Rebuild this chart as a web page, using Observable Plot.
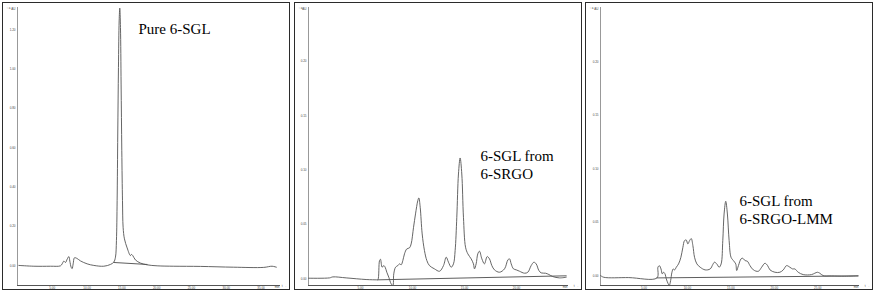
<!DOCTYPE html>
<html><head><meta charset="utf-8">
<script src="https://cdn.jsdelivr.net/npm/d3@7"></script>
<script src="https://cdn.jsdelivr.net/npm/@observablehq/plot@0.6"></script>
<style>
body{margin:0;background:#fff;width:876px;height:294px;overflow:hidden;position:relative}
.panel{position:absolute;top:2px;width:286px;height:286px;border:1px solid #2b2b2b;background:#fff}
.panel svg{display:block}
</style></head><body>
<div id="p1" class="panel" style="left:2px"></div>
<div id="p2" class="panel" style="left:294px"></div>
<div id="p3" class="panel" style="left:585px"></div>
<script>
// Panel 1: Pure 6-SGL (time in min, absorbance in AU)
const pureTime=[0.19,2.35,4.74,6.18,6.42,6.66,6.90,7.14,7.38,7.52,7.71,7.85,8.00,8.19,8.57,9.05,10.01,10.97,12.40,13.36,13.84,14.08,14.22,14.32,14.41,14.51,14.61,14.70,14.80,14.89,14.99,15.09,15.18,15.37,15.76,16.23,16.38,16.57,16.95,17.67,18.63,20.07,22.46,26.29,31.08,35.39,36.59,37.21];
const pureAbs=[0.002,-0.002,-0.002,0,0.010,0.024,0.017,0.034,0.047,0.024,-0.007,-0.014,0.010,0.041,0.037,0.025,0.010,0.002,-0.002,0.007,0.019,0.044,0.129,0.332,0.670,1.008,1.245,1.310,1.211,0.924,0.585,0.332,0.196,0.137,0.091,0.052,0.058,0.052,0.030,0.014,0.005,0,-0.002,-0.003,-0.007,-0.008,-0.002,-0.007];
const pureBaseTime=[13.84,18.63];
const pureBaseAbs=[0.017,0.007];

// Panel 2: 6-SGL from 6-SRGO
const srgoTime=[0.00,2.02,2.34,3.62,5.54,6.57,6.67,6.83,6.92,7.08,7.24,7.37,7.53,7.72,7.95,8.11,8.20,8.37,8.59,8.75,8.91,9.07,9.23,9.45,9.71,9.87,10.10,10.29,10.51,10.61,10.74,10.93,11.15,11.38,11.63,12.11,12.60,12.98,13.24,13.46,13.72,13.94,14.10,14.26,14.42,14.58,14.74,14.90,15.10,15.32,15.64,15.86,15.96,16.12,16.28,16.44,16.67,16.92,17.18,17.40,17.63,17.88,18.36,18.85,19.17,19.33,19.49,19.71,19.97,20.29,20.77,21.09,21.41,21.67,21.89,22.15,22.37,22.79,23.11,23.49,24.13,24.78];
const srgoAbs=[0.0006,0.0009,0.0018,0.0009,-0.0006,-0.0009,-0.0009,0.0168,0.0180,0.0107,0.0122,0.0107,0.0061,0.0015,-0.0046,-0.0061,0.0046,0.0107,0.0122,0.0138,0.0129,0.0168,0.0230,0.0275,0.0285,0.0321,0.0474,0.0597,0.0719,0.0744,0.0658,0.0413,0.0260,0.0168,0.0122,0.0092,0.0070,0.0122,0.0199,0.0153,0.0107,0.0138,0.0260,0.0566,0.0964,0.1111,0.0964,0.0566,0.0291,0.0230,0.0184,0.0138,0.0092,0.0138,0.0230,0.0254,0.0184,0.0138,0.0205,0.0184,0.0122,0.0083,0.0061,0.0092,0.0174,0.0184,0.0138,0.0092,0.0083,0.0070,0.0052,0.0061,0.0122,0.0153,0.0138,0.0077,0.0055,0.0052,0.0040,0.0021,0.0009,0.0015];
const srgoBaseTime=[6.67,24.78];
const srgoBaseAbs=[-0.0009,0.0028];

// Panel 3: 6-SGL from 6-SRGO-LMM
const lmmTime=[0.00,0.38,3.25,6.50,6.61,6.77,6.96,7.11,7.26,7.42,7.57,7.76,7.91,8.07,8.22,8.37,8.53,8.72,8.98,9.25,9.48,9.67,9.86,10.05,10.25,10.44,10.63,10.82,11.09,11.47,12.04,12.62,12.92,13.11,13.38,13.65,13.88,14.07,14.22,14.41,14.60,14.80,15.02,15.29,15.56,15.67,15.87,16.17,16.36,16.63,16.90,17.20,17.59,18.16,18.54,18.92,19.23,19.50,20.07,20.64,21.03,21.41,21.79,22.10,22.36,22.75,23.32,24.28,24.66,24.96,25.23,25.61,26.57,28.10,29.63];
const lmmAbs=[0,-0.0016,-0.0019,-0.0022,0.0078,0.0093,0.0062,0.0016,0.0031,0.0016,-0.0031,-0.0072,-0.0093,-0.0047,0.0031,0.0062,0.0053,0.0078,0.0109,0.0171,0.0265,0.0327,0.0333,0.0296,0.0327,0.0346,0.0280,0.0171,0.0109,0.0078,0.0053,0.0062,0.0103,0.0125,0.0109,0.0078,0.0109,0.0327,0.0576,0.0695,0.0576,0.0327,0.0171,0.0140,0.0109,0.0047,0.0093,0.0156,0.0162,0.0140,0.0134,0.0093,0.0053,0.0040,0.0078,0.0115,0.0093,0.0053,0.0031,0.0031,0.0053,0.0093,0.0078,0.0062,0.0062,0.0031,0.0009,0.0009,0.0022,0.0031,0.0022,0,-0.0003,-0.0006,-0.0003];
const lmmBaseTime=[6.50,29.63];
const lmmBaseAbs=[-0.0022,-0.0003];

// Tick values
const pureYTicks=[0,0.2,0.4,0.6,0.8,1.0,1.2];
const pureXTicks=[5,10,15,20,25,30,35];
const srgoYTicks=[0,0.05,0.10,0.15,0.20];
const srgoXTicks=[5,10,15,20];
const lmmYTicks=[0,0.05,0.10,0.15,0.20];
const lmmXTicks=[5,10,15,20,25];

// Labels
const labels=["Pure 6-SGL","6-SGL from\n6-SRGO","6-SGL from\n6-SRGO-LMM"];

const zip=(xs,ys)=>xs.map((x,i)=>({t:x,a:ys[i]}));

function panel(el,cfg){
  const trace=zip(cfg.time,cfg.abs);
  const base=zip(cfg.baseTime,cfg.baseAbs);
  const [x0,x1]=cfg.xDomain,[y0,y1]=cfg.yDomain;
  const chart=Plot.plot({
    width:286,height:286,
    marginLeft:cfg.ml,marginRight:cfg.mr,marginTop:4,marginBottom:4,
    style:{fontFamily:"Liberation Sans, Arial, sans-serif",fontSize:"3px",background:"#fff"},
    x:{domain:cfg.xDomain},
    y:{domain:cfg.yDomain},
    marks:[
      Plot.axisY({ticks:cfg.yTicks,tickFormat:d3.format(".2f"),tickSize:0,tickPadding:2,fontSize:3,fill:"#444"}),
      Plot.axisX({ticks:cfg.xTicks,tickFormat:d3.format(".2f"),tickSize:0,tickPadding:1,fontSize:3,fill:"#444"}),
      Plot.ruleX([x0],{stroke:"#999",strokeWidth:1}),
      Plot.ruleY([y0],{stroke:"#555",strokeWidth:1}),
      Plot.text(["AU"],{frameAnchor:"top-left",dx:-2,dy:0,textAnchor:"end",fontSize:3,fill:"#444"}),
      Plot.text(["min"],{frameAnchor:"bottom-right",dx:-1,dy:2.5,textAnchor:"end",fontSize:3,fill:"#444"}),
      Plot.line(base,{x:"t",y:"a",stroke:"#333",strokeWidth:0.8}),
      Plot.line(trace,{x:"t",y:"a",stroke:"#555",strokeWidth:0.9,curve:"catmull-rom"}),
      Plot.text([cfg.label],{frameAnchor:"top-left",dx:cfg.dx,dy:cfg.dy,textAnchor:"start",lineAnchor:"top",lineHeight:1.2,
        fontFamily:"'Liberation Serif', 'Times New Roman', serif",fontSize:15,fill:"#000"})
    ]
  });
  document.getElementById(el).appendChild(chart);
}

panel("p1",{time:pureTime,abs:pureAbs,baseTime:pureBaseTime,baseAbs:pureBaseAbs,
  xDomain:[0,37.8],yDomain:[-0.100,1.313],yTicks:pureYTicks,xTicks:pureXTicks,
  ml:14,mr:9,label:labels[0],dx:121,dy:14});
panel("p2",{time:srgoTime,abs:srgoAbs,baseTime:srgoBaseTime,baseAbs:srgoBaseAbs,
  xDomain:[0,25],yDomain:[-0.0061,0.2494],yTicks:srgoYTicks,xTicks:srgoXTicks,
  ml:13,mr:13,label:labels[1],dx:172,dy:141});
panel("p3",{time:lmmTime,abs:lmmAbs,baseTime:lmmBaseTime,baseAbs:lmmBaseAbs,
  xDomain:[0,29.8],yDomain:[-0.0093,0.2508],yTicks:lmmYTicks,xTicks:lmmXTicks,
  ml:14,mr:13,label:labels[2],dx:139,dy:186});
</script>
</body></html>
